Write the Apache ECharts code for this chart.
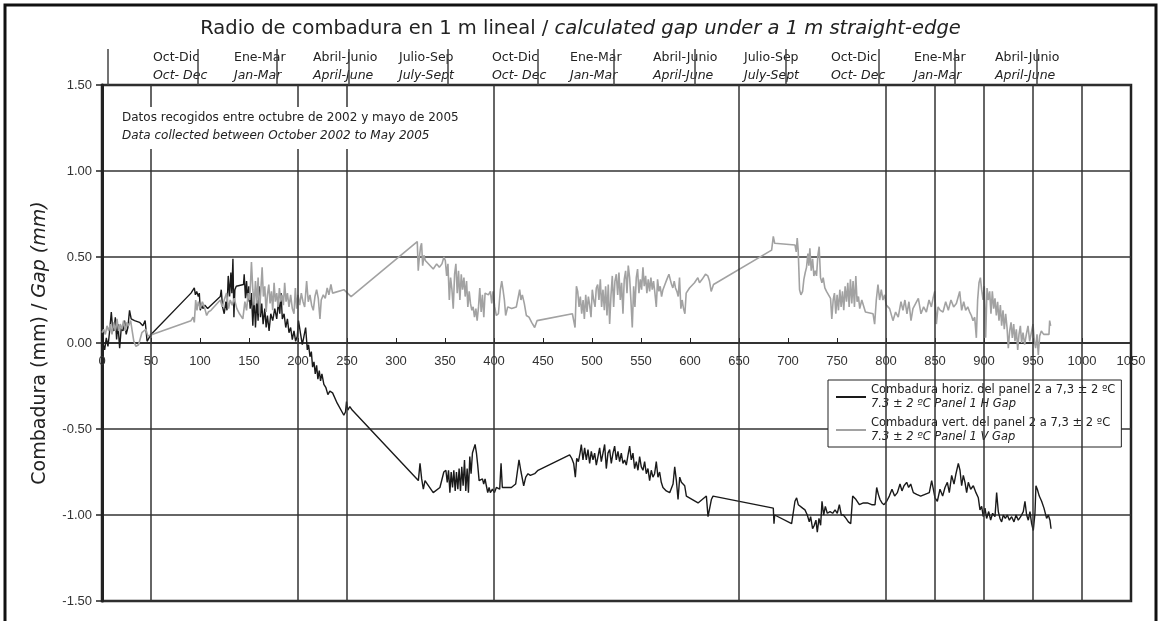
<!DOCTYPE html>
<html>
<head>
    <meta charset="utf-8"/>
    <title>Radio de combadura en 1 m lineal</title>
    <script src="https://cdn.jsdelivr.net/npm/echarts@6/dist/echarts.min.js"></script>
    <style>
        html, body {margin: 0; padding: 0; background: #fff;}
        #chart {width: 1161px; height: 621px;}
    </style>
</head>
<body>
<div id="chart"></div>
<script>
    // series names (es) and legend second line (en)
    var seriesNames = ['Combadura horiz. del panel 2 a 7,3 ± 2 ºC', 'Combadura vert. del panel 2 a 7,3 ± 2 ºC'];
    var seriesNamesEn = ['7.3 ± 2 ºC Panel 1 H Gap', '7.3 ± 2 ºC Panel 1 V Gap'];

    // quarters written above the plot
    var seasonEs = ['Oct-Dic', 'Ene-Mar', 'Abril-Junio', 'Julio-Sep', 'Oct-Dic', 'Ene-Mar', 'Abril-Junio', 'Julio-Sep', 'Oct-Dic', 'Ene-Mar', 'Abril-Junio'];
    var seasonEn = ['Oct- Dec', 'Jan-Mar', 'April-June', 'July-Sept', 'Oct- Dec', 'Jan-Mar', 'April-June', 'July-Sept', 'Oct- Dec', 'Jan-Mar', 'April-June'];

    // x values that carry a vertical grid line
    var gridX = [50, 200, 250, 400, 650, 800, 850, 900, 950, 1000];

    // horizontal gap, panel 1
    var horizGap = [
        [0, 0.05], [1.4, -0.01], [2.7, -0.04], [4.4, 0.03], [6.1, -0.02], [7.8, 0.07], [9.5, 0.18], [10.8, 0.09], [12.2, 0.07], [13.6, 0.15],
        [14.9, 0.02], [16.3, 0.11], [18, -0.03], [19.7, 0.09], [21.4, 0.07], [23, 0.13], [24.7, 0.05], [26.4, 0.09], [28.1, 0.19], [29.8, 0.14],
        [33.2, 0.13], [38.3, 0.12], [41.7, 0.10], [44, 0.13], [46, 0.01], [48, 0.03], [50, 0.05],
        [90.8, 0.29], [92.5, 0.30], [94.2, 0.32], [95.3, 0.28], [96.6, 0.30], [98.3, 0.27], [99.3, 0.29], [100.3, 0.19], [101.7, 0.22], [103, 0.20],
        [105, 0.22], [107.8, 0.20], [120.7, 0.27], [121.7, 0.31], [123, 0.21], [124.7, 0.17], [126.4, 0.24], [127.5, 0.19], [128.8, 0.39], [130.2, 0.27],
        [131.5, 0.41], [132.5, 0.29], [133.6, 0.49], [134.6, 0.15], [135.6, 0.31], [137, 0.33], [144.4, 0.34], [145.1, 0.40], [146.4, 0.26], [147.5, 0.36],
        [148.8, 0.24], [149.8, 0.33], [151.2, 0.20], [152.5, 0.29], [153.9, 0.10], [155.3, 0.27], [156.6, 0.09], [158, 0.25], [159.3, 0.13], [160.3, 0.33],
        [161.7, 0.15], [163, 0.23], [164.4, 0.11], [166.1, 0.20], [167.5, 0.09], [168.8, 0.16], [170.5, 0.07], [172.2, 0.17], [174.2, 0.13], [176.3, 0.20],
        [178.3, 0.14], [180, 0.24], [181.4, 0.17], [182.7, 0.29], [184, 0.14], [185.8, 0.17], [187.5, 0.09], [189.2, 0.14], [190.8, 0.06], [192.5, 0.09],
        [194.2, 0.02], [195.9, 0.07], [197.6, 0.01], [199.3, 0.04], [200.5, 0.13], [202.7, 0.05], [204.4, -0.01], [206.1, 0.04], [207.8, 0.09], [209.5, -0.04],
        [210.8, -0.01], [212.2, -0.08], [213.6, -0.05], [214.9, -0.14], [216.3, -0.11], [217.6, -0.18], [219, -0.13], [220.3, -0.21], [221.7, -0.16], [223, -0.22],
        [224.4, -0.18], [226.4, -0.24], [228.5, -0.26], [230.5, -0.30], [232.5, -0.28], [235.3, -0.29], [240, -0.35], [246.8, -0.42], [248.5, -0.40], [249.5, -0.34],
        [250.8, -0.39], [252.9, -0.37], [255.3, -0.39], [260.3, -0.42],
        [322.8, -0.80], [324.5, -0.70], [326.2, -0.79], [327.9, -0.85], [329.6, -0.80], [332, -0.82], [338, -0.87], [344.8, -0.84], [348.8, -0.75], [350.9, -0.74],
        [352.3, -0.81], [353.6, -0.74], [355, -0.87], [356.3, -0.75], [357.7, -0.84], [359, -0.74], [360.4, -0.86], [361.7, -0.75], [363.1, -0.85], [364.4, -0.73],
        [365.8, -0.86], [367.1, -0.72], [368.5, -0.83], [369.9, -0.68], [371.2, -0.86], [372.6, -0.73], [373.9, -0.87], [375.3, -0.66], [376.6, -0.76], [378, -0.64],
        [379.4, -0.63], [380.7, -0.59], [382.1, -0.64], [383.4, -0.71], [384.8, -0.80], [386.1, -0.81], [388.2, -0.79], [389.5, -0.82], [390.9, -0.79], [392.2, -0.83],
        [393.6, -0.87], [395, -0.84], [396.3, -0.87], [398.4, -0.85], [400.4, -0.87], [402.4, -0.84], [405.8, -0.85], [407.2, -0.70], [408.5, -0.84], [412.6, -0.84],
        [417.7, -0.84], [422.1, -0.82], [425.5, -0.68], [427.6, -0.75], [430.3, -0.83], [432.4, -0.78], [434.7, -0.76], [437.1, -0.77], [441.5, -0.76], [444.9, -0.74],
        [477.2, -0.65], [479.3, -0.67], [481.3, -0.70], [483, -0.78], [484.4, -0.67], [486.1, -0.69], [487.8, -0.64], [489.1, -0.59], [490.8, -0.68], [492.5, -0.61],
        [494.2, -0.68], [495.9, -0.62], [497.6, -0.70], [499.3, -0.63], [501, -0.68], [502.7, -0.64], [504.4, -0.71], [506.1, -0.66], [507.8, -0.61], [509.5, -0.69],
        [511.2, -0.64], [512.9, -0.59], [514.6, -0.73], [516.3, -0.64], [518, -0.62], [519.7, -0.70], [521.4, -0.64], [523.1, -0.60], [524.8, -0.68], [526.5, -0.63],
        [528.2, -0.69], [529.9, -0.64], [531.6, -0.70], [533.3, -0.68], [535, -0.71], [537.1, -0.64], [538.4, -0.60], [540.1, -0.68], [541.8, -0.64], [543.5, -0.73],
        [545.2, -0.69], [546.9, -0.74], [548.6, -0.66], [550.3, -0.72], [552, -0.74], [553.7, -0.69], [555.4, -0.76], [557.1, -0.73], [558.8, -0.80], [560.5, -0.74],
        [562.2, -0.78], [563.9, -0.76], [565.6, -0.69], [567.3, -0.78], [569, -0.75], [570.7, -0.81], [572.4, -0.84], [575.8, -0.86], [579.3, -0.87], [582.7, -0.82],
        [584.4, -0.72], [586.1, -0.80], [587.8, -0.91], [589.5, -0.78], [591.2, -0.81], [592.9, -0.80], [594.6, -0.83], [596.3, -0.89], [598, -0.89], [608.2, -0.93],
        [616.7, -0.89], [618.4, -1.01], [620.1, -1.02], [621.8, -0.91], [623.5, -0.89],
        [685, -0.96], [685.7, -1.05], [686.4, -1.00], [703.7, -1.05], [707.1, -0.92], [708.8, -0.90], [710.5, -0.94], [712.2, -0.93], [714.9, -0.96], [717.3, -0.97],
        [719.7, -1.00], [721.7, -1.04], [723.1, -1.01], [725.1, -1.08], [726.8, -1.06], [728.5, -1.03], [729.9, -1.10], [731.6, -1.02], [733.3, -1.06], [734.7, -0.92],
        [736.4, -1.00], [738.1, -0.95], [740.1, -0.99], [742.9, -0.98], [745.6, -0.99], [748, -0.97], [750.3, -0.99], [752.4, -0.94], [754.4, -1.00], [756.5, -1.00],
        [759.2, -1.02], [761.6, -1.04], [764, -1.05], [766, -0.89], [769.4, -0.91], [772.8, -0.94], [776.9, -0.93], [781, -0.93], [785.4, -0.94], [788.8, -0.94],
        [790.5, -0.84], [792.2, -0.88], [793.9, -0.91], [795.9, -0.93], [798, -0.94], [800.7, -0.92], [803.4, -0.89], [806.1, -0.85], [808.8, -0.89], [811.6, -0.87],
        [814.3, -0.82], [816.3, -0.86], [818.4, -0.83], [821.1, -0.81], [823.1, -0.84], [825.2, -0.82], [827.9, -0.87], [831.3, -0.88], [835.4, -0.89], [839.8, -0.88],
        [844.2, -0.87], [846.6, -0.80], [848.3, -0.85], [850, -0.90], [852.4, -0.92], [855.1, -0.85], [857.8, -0.89], [860.2, -0.84], [862.6, -0.81], [864.6, -0.87],
        [867, -0.77], [869.4, -0.82], [871.4, -0.76], [873.8, -0.70], [875.5, -0.74], [877.2, -0.83], [878.9, -0.77], [880.6, -0.81], [882.3, -0.87], [884, -0.81],
        [886.4, -0.85], [889.1, -0.83], [891.8, -0.87], [894.2, -0.90], [895.9, -0.97], [897.6, -0.95], [899.3, -1.01], [901, -0.96], [902.7, -1.02], [904.8, -0.98],
        [906.8, -1.03], [908.8, -0.99], [911.2, -1.01], [912.9, -0.87], [914.6, -0.98], [916.3, -1.02], [918, -1.04], [919.7, -1.00], [921.8, -1.02], [923.8, -1.00],
        [925.9, -1.03], [928.2, -1.01], [930.6, -1.04], [932.7, -1.00], [935, -1.03], [937.4, -1.01], [940.1, -0.98], [941.8, -0.92], [943.5, -1.00], [945.2, -1.03],
        [946.9, -0.98], [948.6, -1.05], [950.3, -1.09], [952, -0.99], [953, -0.83], [954.4, -0.85], [956.4, -0.89], [958.8, -0.92], [961.2, -0.96], [963.9, -1.02],
        [965.6, -1.00], [967.3, -1.03], [968.4, -1.08]
    ];

    // vertical gap, panel 1
    var vertGap = [
        [0, 0.06], [1.7, 0.08], [3.4, 0.05], [5.1, 0.10], [6.8, 0.07], [8.5, 0.11], [10.2, 0.05], [11.9, 0.12], [13.6, 0.07], [15.3, 0.14],
        [16.9, 0.07], [18.6, 0.11], [20.3, 0.08], [22, 0.13], [23.7, 0.07], [25.4, 0.12], [27.1, 0.10], [29.2, 0.13], [30.8, 0.07], [32.5, 0.01],
        [34.6, -0.02], [37.3, -0.01], [39.3, 0.00], [40.7, 0.06], [42.7, 0.05], [44.7, 0.08], [46.8, 0.04], [48.8, 0.05],
        [90.8, 0.13], [92.9, 0.15], [94.2, 0.12], [95.6, 0.25], [96.9, 0.19], [98.3, 0.24], [100.3, 0.20], [102.4, 0.24], [104.4, 0.21], [106.8, 0.16],
        [108.5, 0.18], [111.2, 0.19], [120.7, 0.25], [122.7, 0.21], [124.7, 0.25], [127.1, 0.29], [129.2, 0.20], [130.8, 0.25], [132.9, 0.22], [134.9, 0.26],
        [137.6, 0.20], [140.3, 0.17], [143.7, 0.14], [145.8, 0.24], [147.5, 0.19], [149.2, 0.29], [150.8, 0.25], [152.5, 0.47], [153.9, 0.31], [155.3, 0.22],
        [156.6, 0.36], [158, 0.23], [159.3, 0.38], [160.7, 0.17], [162, 0.30], [163.4, 0.44], [164.7, 0.27], [166.1, 0.33], [167.5, 0.18], [168.8, 0.28],
        [170.2, 0.34], [171.5, 0.23], [172.9, 0.30], [174.2, 0.19], [175.6, 0.35], [176.9, 0.24], [178.3, 0.29], [179.7, 0.21], [181, 0.32], [182.4, 0.24],
        [183.7, 0.28], [185.1, 0.22], [186.4, 0.35], [187.8, 0.24], [189.2, 0.29], [190.8, 0.21], [192.5, 0.28], [194.2, 0.20], [195.9, 0.17], [197.3, 0.32],
        [198.6, 0.20], [200, 0.28], [201.7, 0.22], [203.4, 0.29], [205.1, 0.24], [206.8, 0.21], [208.8, 0.36], [210.5, 0.24], [212.2, 0.28], [213.9, 0.22],
        [215.6, 0.19], [217.3, 0.27], [219, 0.31], [220.7, 0.26], [222.4, 0.14], [223.7, 0.25], [225.8, 0.28], [227.8, 0.26], [229.8, 0.32], [231.5, 0.28],
        [233.6, 0.34], [235.3, 0.29], [246.8, 0.31], [254.2, 0.27],
        [321.7, 0.59], [322.7, 0.42], [323.7, 0.49], [325.1, 0.56], [326.1, 0.58], [327.2, 0.45], [328.5, 0.51], [329.9, 0.48], [338, 0.43], [341.5, 0.46],
        [344.2, 0.44], [346.9, 0.46], [348.9, 0.50], [350.3, 0.48], [351.7, 0.39], [353, 0.46], [354.4, 0.25], [355.7, 0.38], [357.1, 0.31], [358.4, 0.20],
        [359.8, 0.40], [361.1, 0.46], [362.5, 0.29], [363.8, 0.42], [365.2, 0.25], [366.6, 0.40], [367.9, 0.31], [369.3, 0.38], [370.6, 0.27], [372, 0.36],
        [373.3, 0.21], [374.7, 0.30], [376, 0.23], [377.4, 0.19], [378.7, 0.21], [380.1, 0.15], [381.5, 0.20], [382.8, 0.13], [384.2, 0.21], [385.5, 0.32],
        [386.9, 0.18], [388.2, 0.28], [389.6, 0.15], [390.9, 0.29], [392.3, 0.30], [394.3, 0.28], [396.3, 0.30], [397.7, 0.23], [399, 0.30], [400.7, 0.21],
        [402.4, 0.16], [404.5, 0.17], [406.5, 0.31], [407.9, 0.36], [409.2, 0.31], [410.6, 0.25], [411.9, 0.16], [414, 0.21], [418, 0.20], [422.8, 0.21],
        [424.8, 0.20], [426.2, 0.31], [427.5, 0.25], [428.9, 0.28], [430.9, 0.23], [433, 0.16], [435.7, 0.15], [438.4, 0.12], [441.5, 0.09], [443.9, 0.13],
        [480, 0.17], [481.7, 0.16], [482.7, 0.09], [484.1, 0.33], [485.4, 0.30], [486.8, 0.21], [488.1, 0.27], [489.5, 0.17], [490.9, 0.25], [492.2, 0.14],
        [493.6, 0.28], [494.9, 0.18], [496.3, 0.27], [497.6, 0.22], [499, 0.15], [500.3, 0.31], [501.7, 0.25], [503.1, 0.21], [504.4, 0.32], [505.8, 0.34],
        [507.1, 0.25], [508.5, 0.37], [509.8, 0.21], [511.2, 0.31], [512.6, 0.19], [513.9, 0.33], [515.3, 0.16], [516.6, 0.34], [518, 0.11], [519.4, 0.28],
        [520.7, 0.39], [522.1, 0.21], [523.4, 0.36], [524.8, 0.40], [526.2, 0.28], [527.5, 0.41], [528.9, 0.25], [530.2, 0.35], [531.6, 0.17], [532.9, 0.37],
        [534.3, 0.42], [535.7, 0.29], [537, 0.45], [538.4, 0.38], [539.7, 0.25], [541.1, 0.09], [542.5, 0.33], [543.8, 0.21], [545.2, 0.38], [546.5, 0.43],
        [547.9, 0.29], [549.3, 0.37], [550.6, 0.31], [552, 0.44], [553.3, 0.33], [554.7, 0.39], [556, 0.29], [557.4, 0.37], [558.8, 0.30], [560.1, 0.38],
        [561.5, 0.31], [562.8, 0.36], [564.2, 0.29], [565.6, 0.21], [566.9, 0.37], [568.3, 0.30], [569.6, 0.33], [571, 0.27], [572.4, 0.31], [574.4, 0.34],
        [576.4, 0.37], [578.5, 0.40], [579.8, 0.37], [581.2, 0.34], [582.5, 0.32], [583.9, 0.36], [585.2, 0.32], [586.6, 0.30], [588, 0.27], [589.3, 0.38],
        [590.7, 0.20], [592, 0.25], [593.4, 0.20], [594.8, 0.17], [596.1, 0.29], [599.5, 0.32], [604.6, 0.35], [608, 0.38], [609.7, 0.35], [612.4, 0.37],
        [615.8, 0.40], [618.2, 0.39], [619.9, 0.36], [621.6, 0.30], [624, 0.34],
        [683.3, 0.54], [685, 0.62], [686.4, 0.58], [707.1, 0.57], [708.4, 0.53], [709.4, 0.61], [710.4, 0.54], [711.8, 0.31], [713.2, 0.28], [714.9, 0.30],
        [716.2, 0.37], [717.6, 0.41], [718.9, 0.44], [720.3, 0.52], [721.3, 0.45], [722.3, 0.55], [723.7, 0.42], [725.1, 0.49], [726.4, 0.39], [727.8, 0.42],
        [729.1, 0.39], [730.5, 0.51], [731.8, 0.56], [733.2, 0.38], [734.6, 0.35], [735.9, 0.38], [737.6, 0.32], [739.3, 0.30], [741.3, 0.31], [743.4, 0.26],
        [744.7, 0.14], [746.1, 0.25], [747.4, 0.29], [748.8, 0.17], [750.1, 0.28], [751.5, 0.19], [752.9, 0.31], [754.2, 0.21], [755.6, 0.30], [756.9, 0.19],
        [758.3, 0.33], [759.7, 0.24], [761, 0.35], [762.4, 0.21], [763.7, 0.37], [765.1, 0.23], [766.4, 0.36], [767.8, 0.21], [769.2, 0.39], [770.5, 0.24],
        [771.9, 0.27], [773.2, 0.20], [775.3, 0.25], [777.3, 0.26], [779, 0.18], [786.8, 0.17], [788.4, 0.11], [790.1, 0.25], [791.8, 0.34], [793.5, 0.25],
        [795.2, 0.31], [796.9, 0.25], [798.6, 0.28], [800.3, 0.22], [803.7, 0.20], [807.1, 0.13], [809.8, 0.18], [812.5, 0.15], [815.3, 0.24], [817.3, 0.19],
        [819.3, 0.25], [821.4, 0.17], [823.4, 0.24], [825.5, 0.13], [827.5, 0.20], [830.3, 0.23], [833, 0.26], [835.7, 0.17], [838.4, 0.21], [841.2, 0.18],
        [843.9, 0.25], [846.3, 0.21], [848, 0.26], [849.7, 0.30], [851.4, 0.11], [853.1, 0.21], [855.4, 0.19], [858.2, 0.18], [860.9, 0.24], [863.6, 0.19],
        [866.3, 0.25], [869, 0.21], [871.8, 0.23], [873.8, 0.27], [875.2, 0.30], [877.2, 0.19], [879.3, 0.24], [881.3, 0.19], [883.4, 0.21], [885.4, 0.18],
        [887.1, 0.16], [888.8, 0.13], [890.5, 0.15], [892.2, 0.03], [893.5, 0.25], [894.9, 0.35], [896.3, 0.38], [897.6, 0.31], [899, 0.25], [900.3, 0.33],
        [901.7, 0.03], [903.1, 0.32], [904.4, 0.25], [905.8, 0.30], [907.1, 0.17], [908.5, 0.30], [909.9, 0.20], [911.2, 0.26], [912.6, 0.16], [913.9, 0.24],
        [915.3, 0.13], [916.7, 0.22], [918, 0.10], [919.4, 0.19], [920.7, 0.08], [922.1, 0.17], [923.5, 0.09], [924.8, -0.03], [926.2, 0.07], [927.6, 0.12],
        [928.9, 0.03], [930.3, 0.11], [931.6, 0.01], [933, 0.08], [934.4, -0.04], [935.7, 0.05], [937.1, 0.10], [938.4, 0.00], [939.8, 0.06], [941.5, -0.01],
        [943.2, 0.05], [944.9, 0.10], [946.6, 0.01], [948.3, 0.06], [950, 0.11], [951.4, 0.01], [952.7, -0.03], [954.1, 0.05], [955.4, -0.07], [956.8, 0.04],
        [958.5, 0.07], [960.9, 0.05], [963.6, 0.05], [966.3, 0.05], [967, 0.13], [968, 0.10]
    ];

    // header layout (pixels)
    var seasonCenters = [153, 234, 313, 399, 492, 570, 653, 744, 831, 914, 995];
    var seasonSeps = [108, 198, 277, 349, 448, 538, 614, 695, 786, 879, 955, 1037];

    var FONT = 'DejaVu Sans';
    var AXISFONT = 'Liberation Sans';

    var header = [];
    for (var i = 0; i < seasonEs.length; i++) {
        header.push({
            type: 'text', left: seasonCenters[i], top: 51, z: 100,
            style: {text: seasonEs[i], font: '12.5px "' + FONT + '"', fill: '#222', textAlign: 'center'}
        });
        header.push({
            type: 'text', left: seasonCenters[i], top: 69, z: 100,
            style: {text: seasonEn[i], font: 'italic 12.5px "' + FONT + '"', fill: '#222', textAlign: 'center'}
        });
    }
    seasonSeps.forEach(function (x) {
        header.push({
            type: 'line', z: 100,
            shape: {x1: x, y1: 49, x2: x, y2: 85},
            style: {stroke: '#444', lineWidth: 1.5}
        });
    });

    var Mychart = echarts.init(document.getElementById('chart'));
    var option = {
        backgroundColor: '#fff',
        animation: false,
        title: {
            text: '{n|Radio de combadura en 1 m lineal / }{i|calculated gap under a 1 m straight-edge}',
            left: 'center',
            top: 14,
            textStyle: {
                fontWeight: 'normal',
                rich: {
                    n: {fontFamily: FONT, fontSize: 19.5, fontWeight: 'normal', color: '#222'},
                    i: {fontFamily: FONT, fontSize: 19.5, fontWeight: 'normal', fontStyle: 'italic', color: '#222'}
                }
            }
        },
        // grid 0 holds the data, grid 1 only carries the x axis drawn at y = 0
        grid: [
            {left: 102, right: 30, top: 85, bottom: 20, show: true, borderColor: '#222', borderWidth: 2.5},
            {left: 102, right: 30, top: 85, height: 258, show: false}
        ],
        legend: {
            orient: 'vertical',
            left: 828, top: 380,
            padding: [4, 6, 4, 8],
            itemGap: 7,
            itemWidth: 30, itemHeight: 2,
            icon: 'rect',
            backgroundColor: '#fff',
            borderColor: '#222', borderWidth: 1,
            data: seriesNames,
            formatter: function (name) {
                return '{es|' + name + '}\n{en|' + seriesNamesEn[seriesNames.indexOf(name)] + '}';
            },
            textStyle: {
                rich: {
                    es: {fontFamily: FONT, fontSize: 11.5, lineHeight: 14, color: '#222'},
                    en: {fontFamily: FONT, fontSize: 11.5, lineHeight: 14, fontStyle: 'italic', color: '#222'}
                }
            }
        },
        xAxis: [
            {
                type: 'value', gridIndex: 0,
                min: 0, max: 1050, interval: 50,
                axisLine: {show: false},
                axisTick: {show: false},
                axisLabel: {show: false},
                splitLine: {show: false}
            },
            {
                type: 'value', gridIndex: 1, position: 'bottom',
                min: 0, max: 1050, interval: 50,
                axisLine: {show: true, onZero: false, lineStyle: {color: '#222', width: 1.5}},
                axisTick: {show: true, inside: true, length: 5, lineStyle: {color: '#222', width: 1}},
                axisLabel: {
                    margin: 12, fontFamily: AXISFONT, fontSize: 13, color: '#333',
                    formatter: function (v) { return String(v); }
                },
                splitLine: {show: false}
            }
        ],
        yAxis: [
            {
                type: 'value', gridIndex: 0,
                min: -1.5, max: 1.5, interval: 0.5,
                name: '{n|Combadura (mm) / }{i|Gap (mm)}',
                nameLocation: 'middle',
                nameGap: 52,
                nameRotate: 90,
                nameTextStyle: {
                    rich: {
                        n: {fontFamily: FONT, fontSize: 19, color: '#222'},
                        i: {fontFamily: FONT, fontSize: 19, fontStyle: 'italic', color: '#222'}
                    }
                },
                axisLine: {show: true, onZero: false, lineStyle: {color: '#222', width: 3}},
                axisTick: {show: true, length: 6, lineStyle: {color: '#222', width: 1.5}},
                axisLabel: {
                    margin: 10, fontFamily: AXISFONT, fontSize: 13, color: '#333',
                    formatter: function (v) { return v.toFixed(2); }
                },
                splitLine: {show: true, lineStyle: {color: '#333', width: 1.5}}
            },
            {
                type: 'value', gridIndex: 1, min: 0, max: 1, show: false
            }
        ],
        series: [
            {
                name: seriesNames[0],
                type: 'line',
                xAxisIndex: 0, yAxisIndex: 0,
                data: horizGap,
                showSymbol: false,
                symbol: 'none',
                color: '#1a1a1a',
                lineStyle: {color: '#1a1a1a', width: 1.4},
                markLine: {
                    silent: true,
                    symbol: ['none', 'none'],
                    label: {show: false},
                    lineStyle: {color: '#333', width: 1.5, type: 'solid'},
                    data: gridX.map(function (x) { return {xAxis: x}; })
                }
            },
            {
                name: seriesNames[1],
                type: 'line',
                xAxisIndex: 0, yAxisIndex: 0,
                data: vertGap,
                showSymbol: false,
                symbol: 'none',
                color: '#a2a2a2',
                lineStyle: {color: '#a2a2a2', width: 1.6}
            }
        ],
        graphic: header.concat([
            {
                type: 'rect', z: 100,
                shape: {x: 117, y: 107, width: 364, height: 42},
                style: {fill: '#fff'}
            },
            {
                type: 'text', left: 122, top: 112, z: 101,
                style: {text: 'Datos recogidos entre octubre de 2002 y mayo de 2005', font: '12px "' + FONT + '"', fill: '#222'}
            },
            {
                type: 'text', left: 122, top: 130, z: 101,
                style: {text: 'Data collected between October 2002 to May 2005', font: 'italic 12px "' + FONT + '"', fill: '#222'}
            },
            {
                type: 'rect', z: 100,
                shape: {x: 5, y: 5, width: 1151, height: 640},
                style: {fill: 'none', stroke: '#111', lineWidth: 3}
            }
        ])
    };
    Mychart.setOption(option);
</script>
</body>
</html>
